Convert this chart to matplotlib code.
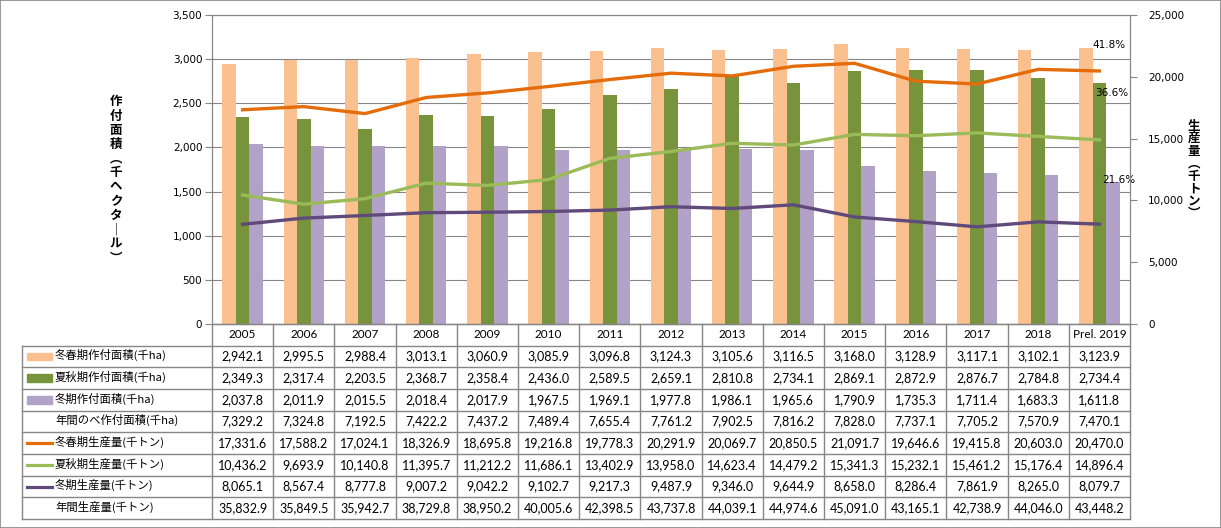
import matplotlib
matplotlib.use("Agg")
import matplotlib.pyplot as plt
from matplotlib.patches import Rectangle
from matplotlib.lines import Line2D
import numpy as np

plt.rcParams["font.family"] = ["DejaVu Sans", "Noto Sans CJK JP"]

years = ["2005", "2006", "2007", "2008", "2009", "2010", "2011", "2012",
         "2013", "2014", "2015", "2016", "2017", "2018", "Prel. 2019"]
area_spring = [2942.1, 2995.5, 2988.4, 3013.1, 3060.9, 3085.9, 3096.8, 3124.3,
               3105.6, 3116.5, 3168.0, 3128.9, 3117.1, 3102.1, 3123.9]
area_summer = [2349.3, 2317.4, 2203.5, 2368.7, 2358.4, 2436.0, 2589.5, 2659.1,
               2810.8, 2734.1, 2869.1, 2872.9, 2876.7, 2784.8, 2734.4]
area_winter = [2037.8, 2011.9, 2015.5, 2018.4, 2017.9, 1967.5, 1969.1, 1977.8,
               1986.1, 1965.6, 1790.9, 1735.3, 1711.4, 1683.3, 1611.8]
area_total = [7329.2, 7324.8, 7192.5, 7422.2, 7437.2, 7489.4, 7655.4, 7761.2,
              7902.5, 7816.2, 7828.0, 7737.1, 7705.2, 7570.9, 7470.1]
prod_spring = [17331.6, 17588.2, 17024.1, 18326.9, 18695.8, 19216.8, 19778.3, 20291.9,
               20069.7, 20850.5, 21091.7, 19646.6, 19415.8, 20603.0, 20470.0]
prod_summer = [10436.2, 9693.9, 10140.8, 11395.7, 11212.2, 11686.1, 13402.9, 13958.0,
               14623.4, 14479.2, 15341.3, 15232.1, 15461.2, 15176.4, 14896.4]
prod_winter = [8065.1, 8567.4, 8777.8, 9007.2, 9042.2, 9102.7, 9217.3, 9487.9,
               9346.0, 9644.9, 8658.0, 8286.4, 7861.9, 8265.0, 8079.7]
prod_total = [35832.9, 35849.5, 35942.7, 38729.8, 38950.2, 40005.6, 42398.5, 43737.8,
              44039.1, 44974.6, 45091.0, 43165.1, 42738.9, 44046.0, 43448.2]

row_labels = ["冬春期作付面積(千ha)", "夏秋期作付面積(千ha)", "冬期作付面積(千ha)",
              "年間のべ作付面積(千ha)", "冬春期生産量(千トン)", "夏秋期生産量(千トン)",
              "冬期生産量(千トン)", "年間生産量(千トン)"]

C_BAR = ["#FAC090", "#77933C", "#B3A2C7"]
C_LINE = ["#E46C0A", "#9BBB59", "#604A7B"]
GRID = "#868686"
JP = ["Noto Sans CJK JP", "DejaVu Sans"]

W, H = 1221, 528


def fx(x):
    return x / W


def fy(y):
    return 1 - y / H


fig = plt.figure(figsize=(W / 100, H / 100), dpi=100)
fig.patches.append(Rectangle((0, 0), 1, 1, transform=fig.transFigure, fill=False,
                             edgecolor=GRID, linewidth=1.2))

left, right, top, bottom = 212, 1130, 15, 324
ax = fig.add_axes([fx(left), fy(bottom), fx(right - left), (bottom - top) / H])
n = len(years)
x = np.arange(n)
bw = 0.22
for i, (vals, c) in enumerate(zip([area_spring, area_summer, area_winter], C_BAR)):
    ax.bar(x + (i - 1) * bw, vals, width=bw, color=c, zorder=2)
ax.set_xlim(-0.5, n - 0.5)
ax.set_ylim(0, 3500)
ax.set_yticks(np.arange(0, 3501, 500))
ax.set_yticklabels([f"{v:,}" for v in range(0, 3501, 500)], fontsize=7.5)
ax.set_xticks([])
ax.yaxis.grid(True, color=GRID, linewidth=0.8, zorder=0)
ax.set_axisbelow(True)
for s in ax.spines.values():
    s.set_color(GRID)
ax.tick_params(axis="y", color=GRID, length=5, pad=2)

ax2 = ax.twinx()
for vals, c in zip([prod_spring, prod_summer, prod_winter], C_LINE):
    ax2.plot(x, vals, color=c, linewidth=2.4, zorder=3)
ax2.set_ylim(0, 25000)
ax2.set_yticks(np.arange(0, 25001, 5000))
ax2.set_yticklabels([f"{v:,}" for v in range(0, 25001, 5000)], fontsize=7.5)
ax2.tick_params(axis="y", color=GRID, length=5, pad=8)
for s in ax2.spines.values():
    s.set_color(GRID)

# shares of 2019 planted area
last = n - 1
shares = [v[last] / area_total[last] * 100 for v in (area_spring, area_summer, area_winter)]
ax.annotate(f"{shares[0]:.1f}%", (x[last] - bw / 2, area_spring[last]), xytext=(0, 2),
            textcoords="offset points", ha="left", va="center", fontsize=7.5, zorder=5)
ax.annotate(f"{shares[1]:.1f}%", (x[last] - bw / 2, area_summer[last]), xytext=(1.5, -7.5),
            textcoords="offset points", ha="left", va="center", fontsize=7.5, zorder=5)
ax.annotate(f"{shares[2]:.1f}%", (x[last] + bw / 2, area_winter[last]), xytext=(-3, 1),
            textcoords="offset points", ha="left", va="center", fontsize=7.5, zorder=5)

fig.text(fx(116), fy(180), "\n".join("作付面積︵千ヘクタ｜ル︶"), ha="center", va="center",
         fontsize=9, fontweight="bold", linespacing=1.12, family=JP)
fig.text(fx(1194), fy(170), "\n".join("生産量︵千トン︶"), ha="center", va="center",
         fontsize=9, fontweight="bold", linespacing=0.95, family=JP)

# data table
t_left, t_bottom = 22, 519
colw = (right - left) / n
nlab = (left - t_left) / colw
tax = fig.add_axes([fx(t_left), fy(t_bottom), fx(right - t_left), (t_bottom - bottom) / H])
tax.set_xlim(-nlab, n)
tax.set_ylim(9, 0)
tax.axis("off")

lkw = dict(color=GRID, linewidth=1.0, clip_on=False)
tax.add_line(Line2D([0, n], [0, 0], **lkw))
for r in range(1, 10):
    tax.add_line(Line2D([-nlab, n], [r, r], **lkw))
tax.add_line(Line2D([-nlab, -nlab], [1, 9], **lkw))
for c in range(n + 1):
    tax.add_line(Line2D([c, c], [0, 9], **lkw))

for c, yr in enumerate(years):
    tax.text(c + 0.5, 0.5, yr, ha="center", va="center", fontsize=8.5, family="Lato")

rows = [area_spring, area_summer, area_winter, area_total,
        prod_spring, prod_summer, prod_winter, prod_total]
sw0 = -nlab + 5 / colw
sw1 = -nlab + 30 / colw
lab_x = -nlab + 33 / colw
for r, (lab, vals) in enumerate(zip(row_labels, rows), start=1):
    cy = r + 0.5
    tax.text(lab_x, cy - 0.05, lab, ha="left", va="center", fontsize=8.2, family=JP)
    if r <= 3:
        tax.add_patch(Rectangle((sw0, cy - 0.17), sw1 - sw0, 0.34, color=C_BAR[r - 1],
                                clip_on=False))
    elif 5 <= r <= 7:
        tax.add_line(Line2D([sw0, sw1], [cy, cy], color=C_LINE[r - 5], linewidth=2.3,
                            clip_on=False))
    for c, v in enumerate(vals):
        tax.text(c + 0.5, cy, f"{v:,.1f}", ha="center", va="center", fontsize=9,
                 family="Lato")

fig.savefig("out.png", dpi=100)
